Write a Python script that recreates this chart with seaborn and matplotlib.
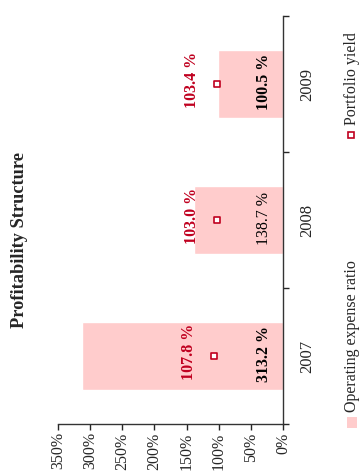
import seaborn as sns
import pandas as pd
import matplotlib.pyplot as plt
from matplotlib.patches import Rectangle
from matplotlib.lines import Line2D
from matplotlib.ticker import FixedLocator, FuncFormatter

# data
years = ['2007', '2008', '2009']
expense_ratio = [313.2, 138.7, 100.5]
portfolio_yield = [107.8, 103.0, 103.4]
expense_bold = [True, False, True]

PINK = '#FFCCCC'
RED = '#C0001F'

sns.set_style('white')
plt.rcParams['font.family'] = ['Liberation Serif', 'DejaVu Serif']

df = pd.DataFrame({'year': years, 'expense': expense_ratio, 'yield': portfolio_yield})
order = years[::-1]

W, H = 361, 473
fig = plt.figure(figsize=(W / 100, H / 100), dpi=100)
ax = fig.add_axes([58 / W, 1 - 424 / H, 225 / W, 408 / H])

sns.barplot(data=df, x='expense', y='year', order=order, orient='h',
            color=PINK, saturation=1, width=0.5, ax=ax)
sns.scatterplot(data=df, x='yield', y='year', marker='s', s=20,
                facecolor='white', edgecolor=RED, linewidth=1.2, ax=ax, zorder=5)

ax.set_xlim(350, 0)
ax.set_ylim(2.5, -0.5)
ax.set_xlabel('')
ax.set_ylabel('')

# value axis (bottom)
ax.xaxis.set_major_locator(FixedLocator(range(0, 351, 50)))
ax.xaxis.set_major_formatter(FuncFormatter(lambda v, p: '%d%%' % v))
ax.tick_params(axis='x', direction='out', length=4, width=1, pad=2,
               labelsize=11.5, labelrotation=90, bottom=True)

# category axis (right)
ax.yaxis.tick_right()
ax.yaxis.set_major_locator(FixedLocator([-0.5, 0.5, 1.5, 2.5]))
ax.yaxis.set_major_formatter(FuncFormatter(lambda v, p: ''))
ax.yaxis.set_minor_locator(FixedLocator([0, 1, 2]))
ax.yaxis.set_minor_formatter(FuncFormatter(lambda v, p: order[int(round(v))]))
ax.tick_params(axis='y', which='major', direction='out', length=4, width=1, right=True)
ax.tick_params(axis='y', which='minor', length=0, pad=12, labelsize=12, right=True)
for t in ax.yaxis.get_minorticklabels():
    t.set_rotation(90)
    t.set_va('center')

for side in ['left', 'top']:
    ax.spines[side].set_visible(False)
for side in ['right', 'bottom']:
    ax.spines[side].set_color('#333333')
    ax.spines[side].set_linewidth(1)
ax.grid(False)

# labels
for yr, ex, yl, b in zip(years, expense_ratio, portfolio_yield, expense_bold):
    pos = order.index(yr)
    ax.annotate('%.1f %%' % ex, xy=(0, pos), xytext=(-11, 2), textcoords='offset pixels',
                rotation=90, ha='right', va='center', fontsize=11.5,
                fontweight='bold' if b else 'normal', color='black')
    ax.annotate('%.1f %%' % yl, xy=(yl, pos), xytext=(-17, 4), textcoords='offset pixels',
                rotation=90, ha='right', va='center', fontsize=11.5,
                fontweight='bold', color=RED)

# title
fig.text(20 / W, 1 - 240 / H, 'Profitability Structure', rotation=90,
         ha='center', va='center', fontsize=13.2, fontweight='bold')

# legend
fig.patches.append(Rectangle((347 / W, 1 - 428 / H), 10 / W, 11 / H,
                             transform=fig.transFigure, facecolor=PINK, edgecolor='none'))
fig.text(352 / W, 1 - 412 / H, 'Operating expense ratio', rotation=90,
         ha='center', va='bottom', fontsize=11.5)
fig.lines.append(Line2D([350.5 / W], [1 - 135.5 / H], transform=fig.transFigure,
                        marker='s', markersize=5, markerfacecolor='white',
                        markeredgecolor=RED, markeredgewidth=1.2, linestyle='none'))
fig.text(352 / W, 1 - 125 / H, 'Portfolio yield', rotation=90,
         ha='center', va='bottom', fontsize=11.5)

fig.savefig('out.png', dpi=100)
